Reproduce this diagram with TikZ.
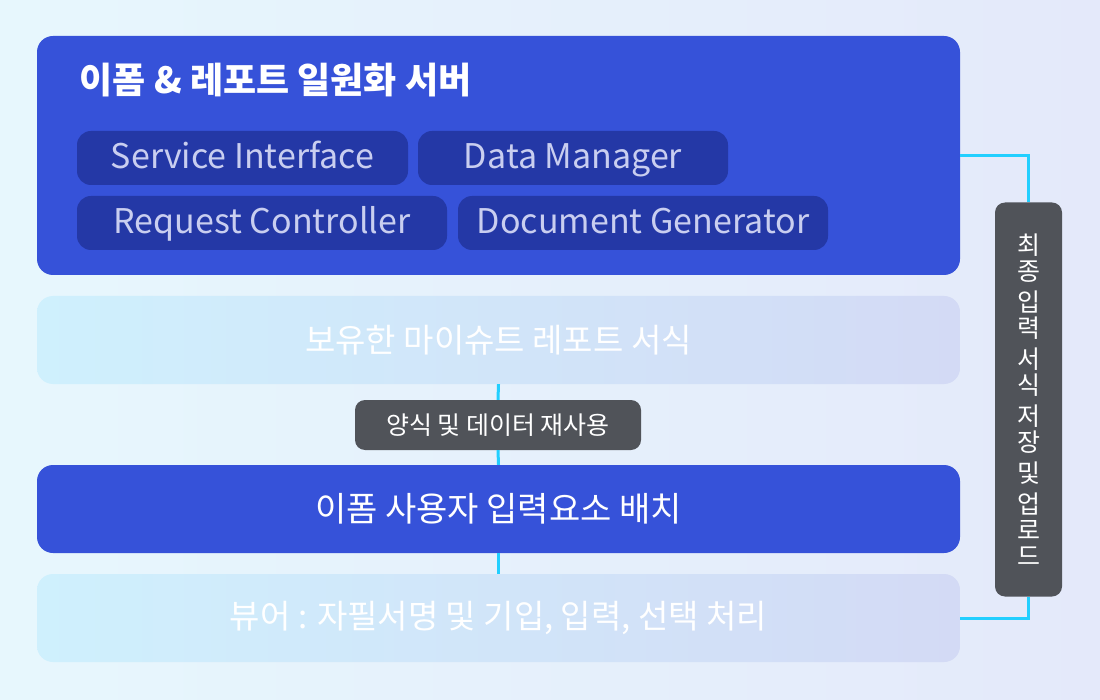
\documentclass[tikz,border=0pt]{standalone}
\usepackage{fontspec}
\setmainfont{Noto Sans CJK KR}
\usetikzlibrary{positioning}
\definecolor{srvblue}{HTML}{3652D9}
\definecolor{chipblue}{HTML}{2438A6}
\definecolor{chiptext}{HTML}{C9CEF0}
\definecolor{taggray}{HTML}{505359}
\definecolor{linkcyan}{HTML}{22CFFF}
\definecolor{bgleft}{HTML}{E7F7FD}
\definecolor{bgright}{HTML}{E4E9FA}
\definecolor{paleleft}{HTML}{CFF0FD}
\definecolor{paleright}{HTML}{D3DAF5}
\tikzset{
  layer/.style={rounded corners=16pt, minimum width=923pt, minimum height=88pt,
    inner sep=0pt, text=white, font=\fontsize{33}{38}\selectfont},
  bluelayer/.style={layer, fill=srvblue},
  palelayer/.style={layer, left color=paleleft, right color=paleright},
  chip/.style={rounded corners=14pt, fill=chipblue, text=chiptext, minimum height=54pt,
    inner sep=0pt, text height=26pt, text depth=4pt, font=\fontsize{34}{38}\selectfont},
  tag/.style={rounded corners=10pt, fill=taggray, text=white, inner sep=0pt},
  link/.style={draw=linkcyan, line width=3pt}
}

\begin{document}
\begin{tikzpicture}[x=1pt,y=-1pt]
  \fill[left color=bgleft, right color=bgright] (0,0) rectangle (1100,700);
  % server block
  \node[bluelayer, minimum height=239pt] (server) at (498.5,155.5) {};
  \node[anchor=west, text=white, font=\bfseries\fontsize{36}{40}\selectfont] (title) at (76,80) {이폼 \& 레포트 일원화 서버};
  \node[chip, minimum width=331pt] (svc) at (242.5,158) {Service Interface};
  \node[chip, minimum width=310pt] (data) at (573,158) {Data Manager};
  \node[chip, minimum width=370pt] (req) at (262,223) {Request Controller};
  \node[chip, minimum width=370pt] (doc) at (643,223) {Document Generator};
  % layers
  \node[palelayer] (form) at (498.5,340) {보유한 마이슈트 레포트 서식};
  \node[bluelayer, font=\fontsize{34}{38}\selectfont] (placing) at (498.5,509) {이폼 사용자 입력요소 배치};
  \node[palelayer] (viewer) at (498.5,618) {뷰어 : 자필서명 및 기입, 입력, 선택 처리};
  \node[tag, minimum width=286pt, minimum height=50pt, font=\fontsize{25}{28}\selectfont] (reuse) at (498,425) {양식 및 데이터 재사용};
  \node[tag, minimum width=67pt, minimum height=394pt, align=center, font=\fontsize{25}{26}\selectfont] (save) at (1028.5,399.5)
    {최\\종\\[5pt]입\\력\\[5pt]서\\식\\[5pt]저\\장\\[5pt]및\\[5pt]업\\로\\드};
  % connectors
  \draw[link] (form.south) -- (reuse.north);
  \draw[link] (reuse.south) -- (placing.north);
  \draw[link] (placing.south) -- (viewer.north);
  \draw[link] (server.east) -| (save.north);
  \draw[link] (save.south) |- (viewer.east);
\end{tikzpicture}
\end{document}
